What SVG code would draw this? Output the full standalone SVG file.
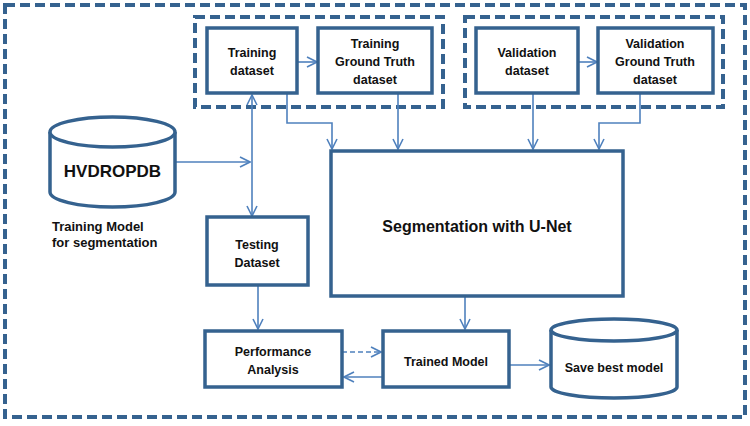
<svg xmlns="http://www.w3.org/2000/svg" width="750" height="426" viewBox="0 0 750 426">
<defs>
<style>
.box{fill:#fff;stroke:#35628F;stroke-width:3.5}
.grp{fill:none;stroke:#35628F;stroke-width:4;stroke-dasharray:10,5}
.ln{fill:none;stroke:#4F81BD;stroke-width:1.6}
.t{font-family:"Liberation Sans",Arial,sans-serif;font-weight:bold;font-size:12.5px;fill:#111;text-anchor:middle}
</style>
<marker id="ah" viewBox="0 0 12 12" refX="11" refY="6" markerWidth="12" markerHeight="12" markerUnits="userSpaceOnUse" orient="auto-start-reverse">
<path d="M1,1 L11,6 L1,11" fill="none" stroke="#4F81BD" stroke-width="1.6"/>
</marker>
</defs>
<rect x="0" y="0" width="750" height="426" fill="#fff"/>
<rect class="grp" x="5" y="5" width="740" height="412"/>
<rect class="grp" x="195" y="17" width="248" height="90"/>
<rect class="grp" x="465" y="17" width="258" height="90"/>

<g id="connectors">
<line class="ln" x1="297" y1="62" x2="317" y2="62" marker-end="url(#ah)"/>
<line class="ln" x1="578" y1="62" x2="597" y2="62" marker-end="url(#ah)"/>
<line class="ln" x1="175" y1="162" x2="250" y2="162" marker-end="url(#ah)"/>
<line class="ln" x1="252" y1="95" x2="252" y2="216" marker-start="url(#ah)" marker-end="url(#ah)"/>
<polyline class="ln" points="287,93 287,123 332,123 332,149" marker-end="url(#ah)"/>
<line class="ln" x1="398" y1="93" x2="398" y2="149" marker-end="url(#ah)"/>
<line class="ln" x1="533" y1="93" x2="533" y2="149" marker-end="url(#ah)"/>
<polyline class="ln" points="640,93 640,123 599,123 599,149" marker-end="url(#ah)"/>
<line class="ln" x1="258" y1="285" x2="258" y2="329" marker-end="url(#ah)"/>
<line class="ln" x1="465" y1="296" x2="465" y2="329" marker-end="url(#ah)"/>
<line class="ln" x1="342" y1="352" x2="381" y2="352" stroke-dasharray="5,3" marker-end="url(#ah)"/>
<line class="ln" x1="383" y1="377" x2="344" y2="377" marker-end="url(#ah)"/>
<line class="ln" x1="509" y1="365" x2="549" y2="365" marker-end="url(#ah)"/>
</g>

<g id="training-dataset">
<rect class="box" x="207" y="28" width="90" height="65"/>
<text class="t" x="252" y="57">Training</text>
<text class="t" x="252" y="75">dataset</text>
</g>
<g id="training-gt">
<rect class="box" x="318" y="28" width="114" height="65"/>
<text class="t" x="375" y="48">Training</text>
<text class="t" x="375" y="66">Ground Truth</text>
<text class="t" x="375" y="84">dataset</text>
</g>
<g id="validation-dataset">
<rect class="box" x="476" y="28" width="102" height="65"/>
<text class="t" x="527" y="57">Validation</text>
<text class="t" x="527" y="75">dataset</text>
</g>
<g id="validation-gt">
<rect class="box" x="598" y="28" width="115" height="65"/>
<text class="t" x="655" y="48">Validation</text>
<text class="t" x="655" y="66">Ground Truth</text>
<text class="t" x="655" y="84">dataset</text>
</g>
<g id="hvdropdb">
<path class="box" d="M50,132 L50,192 A62.5,15 0 0 0 175,192 L175,132"/>
<ellipse class="box" cx="112.5" cy="132" rx="62.5" ry="15"/>
<text class="t" x="112.5" y="177" style="font-size:17px">HVDROPDB</text>
<text class="t" x="52" y="231" style="text-anchor:start;font-size:13px">Training Model</text>
<text class="t" x="52" y="247" style="text-anchor:start;font-size:13px">for segmentation</text>
</g>
<g id="testing-dataset">
<rect class="box" x="207" y="217" width="101" height="68"/>
<text class="t" x="257" y="249">Testing</text>
<text class="t" x="257" y="267">Dataset</text>
</g>
<g id="segmentation">
<rect class="box" x="331" y="151" width="292" height="145"/>
<text class="t" x="477" y="232" style="font-size:16px">Segmentation with U-Net</text>
</g>
<g id="performance">
<rect class="box" x="205" y="331" width="137" height="56"/>
<text class="t" x="273" y="356">Performance</text>
<text class="t" x="273" y="374">Analysis</text>
</g>
<g id="trained-model">
<rect class="box" x="383" y="331" width="126" height="56"/>
<text class="t" x="446" y="366">Trained Model</text>
</g>
<g id="save-best">
<path class="box" d="M551,330 L551,387 A63,11 0 0 0 677,387 L677,330"/>
<ellipse class="box" cx="614" cy="330" rx="63" ry="11"/>
<text class="t" x="614" y="372">Save best model</text>
</g>
</svg>
